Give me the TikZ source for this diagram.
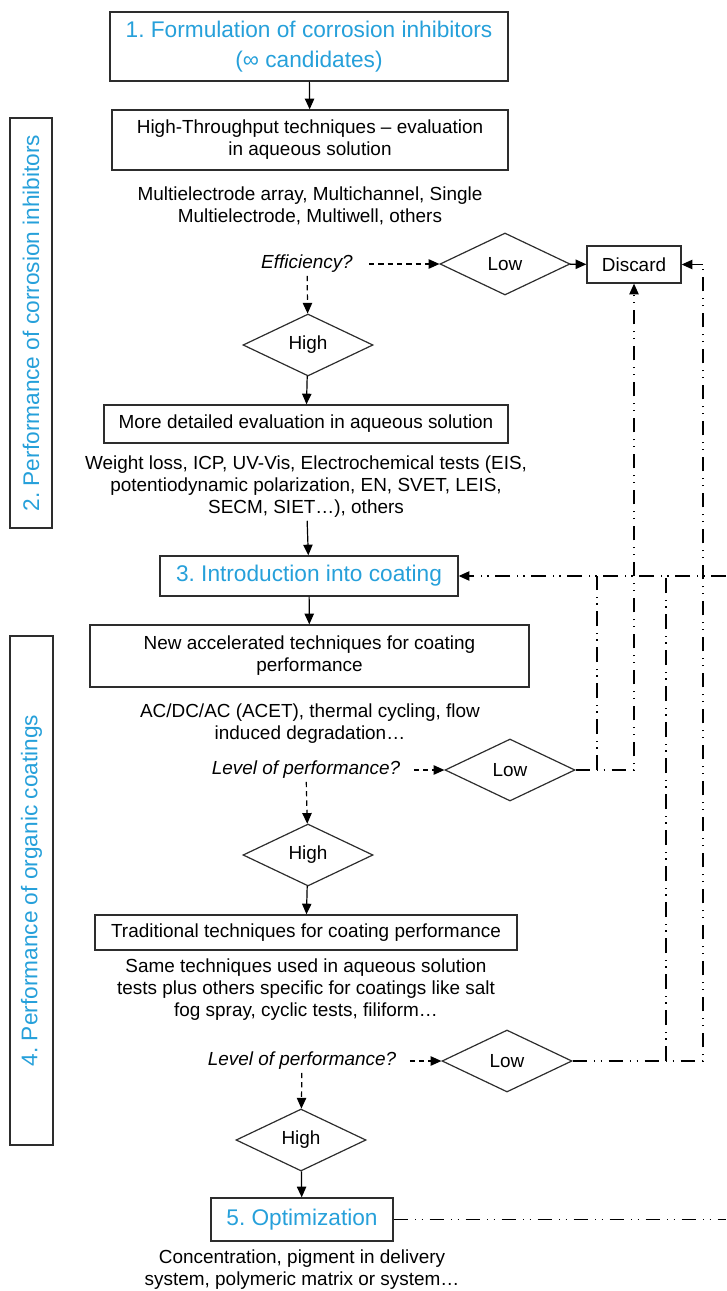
\documentclass[tikz,border=0pt]{standalone}
\usepackage{fontspec}
\setmainfont{Liberation Sans}
\usetikzlibrary{shapes.geometric,arrows.meta}
\definecolor{headblue}{RGB}{38,160,218}
\definecolor{edgegray}{RGB}{45,45,45}
\frenchspacing
\begin{document}
\begin{tikzpicture}[x=0.75pt, y=-0.75pt,
    box/.style={draw=edgegray, line width=1pt, align=center, inner sep=2pt, font=\fontsize{14.2}{16.5}\selectfont},
    headbox/.style={box, text=headblue, font=\fontsize{17}{22.5}\selectfont},
    sidebox/.style={headbox, rotate=90},
    note/.style={align=center, inner sep=2pt, font=\fontsize{14.2}{16.5}\selectfont},
    question/.style={note, font=\fontsize{14.2}{16.5}\selectfont\itshape},
    choice/.style={diamond, draw=edgegray, line width=0.9pt, aspect=2, inner sep=0pt,
        minimum width=97.5pt, minimum height=46.5pt, font=\fontsize{14.2}{16.5}\selectfont},
    flow/.style={-{Triangle[length=8pt,width=7pt]}, line width=0.9pt},
    ask/.style={flow, dash pattern=on 4pt off 3pt},
    feedback/.style={line width=0.9pt, dash pattern=on 11pt off 5pt on 1pt off 4pt on 1pt off 5pt},
    ]
    \useasboundingbox (0,0) rectangle (726,1291);

    % Side labels
    \node[sidebox, minimum width=307.5pt, minimum height=31.5pt] (side1) at (31,323) {2. Performance of corrosion inhibitors};
    \node[sidebox, minimum width=381.75pt, minimum height=32.25pt] (side2) at (31.5,890.5) {4. Performance of organic coatings};

    % Main column
    \node[headbox, minimum width=298.5pt, minimum height=51.75pt] (formul) at (309,46.5) {1. Formulation of corrosion inhibitors\\(∞ candidates)};
    \node[box, minimum width=297pt, minimum height=45pt] (htput) at (310,140) {High-Throughput techniques -- evaluation\\in aqueous solution};
    \node[note] (htnote) at (310,206) {Multielectrode array, Multichannel, Single\\Multielectrode, Multiwell, others};
    \node[question] (eff) at (307,264) {Efficiency?};
    \node[choice] (low1) at (505,264) {Low};
    \node[box, minimum width=70.5pt, minimum height=27.75pt] (discard) at (634,264.5) {Discard};
    \node[choice] (high1) at (308,345) {High};
    \node[box, minimum width=303pt, minimum height=28.5pt] (detail) at (306,424) {More detailed evaluation in aqueous solution};
    \node[note] (detnote) at (306,487) {Weight loss, ICP, UV-Vis, Electrochemical tests (EIS,\\potentiodynamic polarization, EN, SVET, LEIS,\\SECM, SIET\dots), others};
    \node[headbox, minimum width=223.5pt, minimum height=30pt] (coat) at (309,576) {3. Introduction into coating};
    \node[box, minimum width=329.25pt, minimum height=46.5pt] (accel) at (309.5,656) {New accelerated techniques for coating\\performance};
    \node[note] (accnote) at (310,724) {AC/DC/AC (ACET), thermal cycling, flow\\induced degradation\dots};
    \node[question] (perf1) at (306,770) {Level of performance?};
    \node[choice] (low2) at (510,770) {Low};
    \node[choice] (high2) at (308,855) {High};
    \node[box, minimum width=316.5pt, minimum height=26.25pt] (trad) at (306,932.5) {Traditional techniques for coating performance};
    \node[note] (tradnote) at (306,990) {Same techniques used in aqueous solution\\tests plus others specific for coatings like salt\\fog spray, cyclic tests, filiform\dots};
    \node[question] (perf2) at (302,1061) {Level of performance?};
    \node[choice] (low3) at (507,1061) {Low};
    \node[choice] (high3) at (301,1140) {High};
    \node[headbox, minimum width=136.5pt, minimum height=32.25pt] (optim) at (302,1219.5) {5. Optimization};
    \node[note] (optnote) at (302,1270) {Concentration, pigment in delivery\\system, polymeric matrix or system\dots};

    % Right edge and branch points
    \coordinate (coatin) at (726,576);
    \coordinate (optout) at (726,1219.5);
    \coordinate (b2) at (597,0);
    \coordinate (b3) at (666,0);
    \coordinate (r3) at (703,264.5);

    % Main flow
    \draw[flow] (formul) -- (htput);
    \draw[ask, shorten <=10pt] (eff) -- (low1);
    \draw[flow] (low1) -- (discard);
    \draw[ask] (eff) -- (high1);
    \draw[flow] (high1) -- (detail);
    \draw[flow] (detnote) -- (coat);
    \draw[flow] (coat) -- (accel);
    \draw[ask, shorten <=8pt] (perf1) -- (low2);
    \draw[ask] (perf1) -- (high2);
    \draw[flow] (high2) -- (trad);
    \draw[ask, shorten <=8pt] (perf2) -- (low3);
    \draw[ask] (perf2) -- (high3);
    \draw[flow] (high3) -- (optim);

    % Feedback loops
    \draw[feedback, -{Triangle[length=8pt,width=7pt]}] (coatin) -- (coat.east);
    \draw[feedback, -{Triangle[length=8pt,width=7pt]}] (low2.east) -| (discard.south);
    \draw[feedback] (b2 |- low2.east) -- (b2 |- coat.east);
    \draw[feedback] (low3.east) -| (r3);
    \draw[feedback, -{Triangle[length=8pt,width=7pt]}] (r3) -- (discard.east);
    \draw[feedback] (b3 |- low3.east) -- (b3 |- coat.east);
    \draw[feedback] (optim.east) -- (optout);
\end{tikzpicture}
\end{document}
